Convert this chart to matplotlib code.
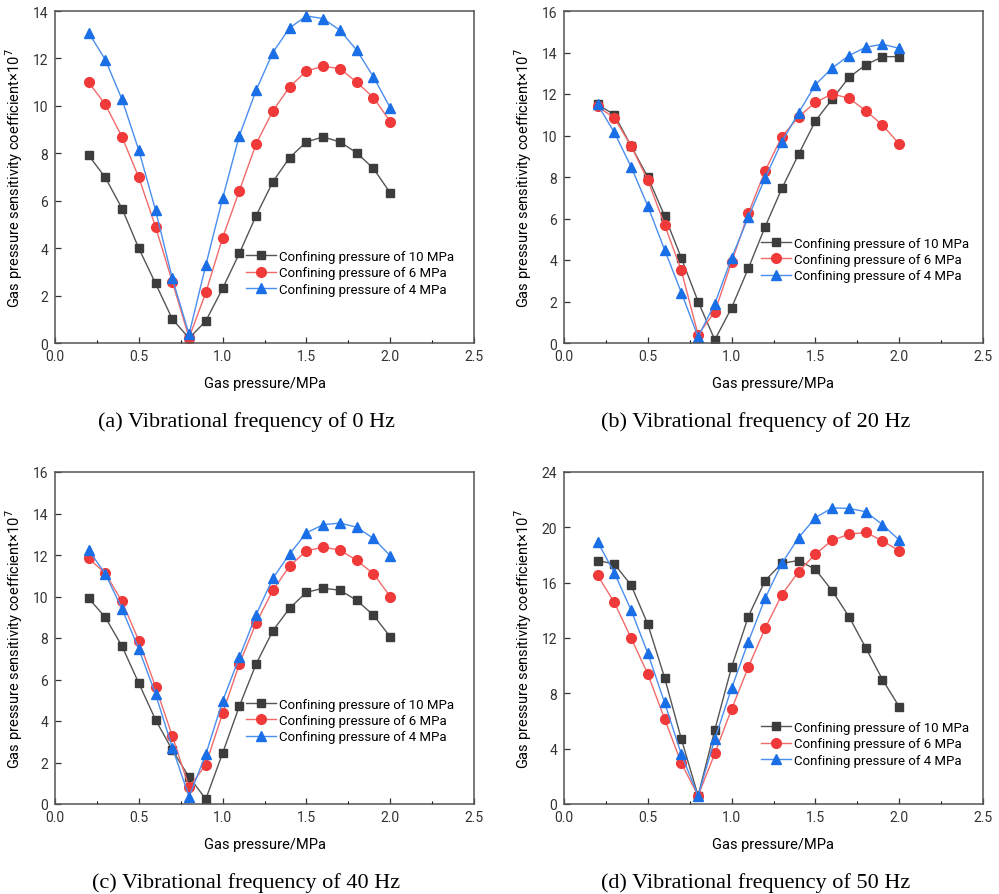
import matplotlib
matplotlib.use("Agg")
import matplotlib.pyplot as plt
from matplotlib.ticker import MultipleLocator

plt.rcParams['font.family'] = ['Roboto', 'DejaVu Sans']

pressure = [0.2, 0.3, 0.4, 0.5, 0.6, 0.7, 0.8, 0.9, 1.0, 1.1,
            1.2, 1.3, 1.4, 1.5, 1.6, 1.7, 1.8, 1.9, 2.0]

labels = ['Confining pressure of 10 MPa',
          'Confining pressure of 6 MPa',
          'Confining pressure of 4 MPa']

# (a) 0 Hz
a_10 = [7.92, 6.98, 5.67, 3.99, 2.51, 1.01, 0.2, 0.93, 2.3, 3.78,
        5.37, 6.8, 7.82, 8.48, 8.69, 8.48, 8.02, 7.36, 6.33]
a_6 = [11.0, 10.06, 8.69, 6.98, 4.9, 2.58, 0.22, 2.13, 4.44, 6.42,
       8.4, 9.79, 10.8, 11.47, 11.67, 11.57, 11.0, 10.35, 9.34]
a_4 = [13.09, 11.95, 10.27, 8.13, 5.6, 2.72, 0.37, 3.29, 6.1, 8.74,
       10.66, 12.25, 13.29, 13.79, 13.68, 13.19, 12.35, 11.22, 9.92]

# (b) 20 Hz
b_10 = [11.5, 11.0, 9.5, 8.0, 6.13, 4.1, 2.0, 0.15, 1.7, 3.6,
        5.6, 7.45, 9.1, 10.7, 11.75, 12.8, 13.4, 13.8, 13.8]
b_6 = [11.4, 10.85, 9.5, 7.85, 5.7, 3.5, 0.4, 1.5, 3.9, 6.25,
       8.3, 9.95, 10.9, 11.6, 12.0, 11.8, 11.2, 10.5, 9.6]
b_4 = [11.5, 10.15, 8.5, 6.6, 4.5, 2.43, 0.3, 1.9, 4.1, 6.07,
       7.95, 9.7, 11.1, 12.45, 13.25, 13.85, 14.25, 14.4, 14.2]

# (c) 40 Hz
c_10 = [9.92, 9.0, 7.6, 5.82, 4.06, 2.6, 1.3, 0.24, 2.45, 4.72,
        6.75, 8.35, 9.44, 10.2, 10.4, 10.3, 9.82, 9.1, 8.06]
c_6 = [11.84, 11.12, 9.76, 7.87, 5.65, 3.28, 0.8, 1.9, 4.37, 6.75,
       8.72, 10.3, 11.47, 12.2, 12.38, 12.24, 11.74, 11.1, 10.0]
c_4 = [12.24, 11.1, 9.4, 7.47, 5.3, 2.72, 0.35, 2.4, 4.96, 7.07,
       9.12, 10.88, 12.05, 13.07, 13.46, 13.54, 13.34, 12.8, 11.97]

# (d) 50 Hz
d_10 = [17.6, 17.35, 15.83, 13.0, 9.14, 4.7, 0.6, 5.37, 9.9, 13.55,
        16.15, 17.4, 17.6, 16.96, 15.42, 13.55, 11.3, 9.0, 7.03]
d_6 = [16.53, 14.58, 12.0, 9.4, 6.16, 2.96, 0.6, 3.66, 6.86, 9.9,
       12.7, 15.13, 16.8, 18.07, 19.06, 19.5, 19.63, 19.03, 18.3]
d_4 = [18.96, 16.72, 14.03, 10.9, 7.34, 3.6, 0.6, 4.7, 8.37, 11.74,
       14.87, 17.4, 19.25, 20.7, 21.4, 21.37, 21.13, 20.2, 19.08]

panels = [
    ('(a) Vibrational frequency of 0 Hz', [a_10, a_6, a_4], 14, 2),
    ('(b) Vibrational frequency of 20 Hz', [b_10, b_6, b_4], 16, 2),
    ('(c) Vibrational frequency of 40 Hz', [c_10, c_6, c_4], 16, 2),
    ('(d) Vibrational frequency of 50 Hz', [d_10, d_6, d_4], 24, 4),
]

styles = [
    dict(color='#555555', mfc='#3c3c3c', mec='#3c3c3c', marker='s', ms=6),
    dict(color='#f26a6a', mfc='#f03a3a', mec='#f03a3a', marker='o', ms=7),
    dict(color='#4a8ef0', mfc='#1a6fe6', mec='#1a6fe6', marker='^', ms=7.5),
]

W, H = 999, 895
boxes = [(55, 12), (564, 12), (55, 473), (564, 473)]
aw, ah = 419, 332
legend_pos = [(0.455, 0.28), (0.47, 0.32), (0.455, 0.32), (0.47, 0.25)]

fig = plt.figure(figsize=(W / 100, H / 100), dpi=100)

for i, (caption, series, ymax, ystep) in enumerate(panels):
    x0, y0 = boxes[i]
    ax = fig.add_axes([x0 / W, 1 - (y0 + ah) / H, aw / W, ah / H])
    for vals, lab, st in zip(series, labels, styles):
        ax.plot(pressure, vals, lw=1.0, label=lab, **st)
    ax.set_xlim(0, 2.5)
    ax.set_ylim(0, ymax)
    ax.xaxis.set_major_locator(MultipleLocator(0.5))
    ax.xaxis.set_minor_locator(MultipleLocator(0.25))
    ax.yaxis.set_major_locator(MultipleLocator(ystep))
    ax.xaxis.set_major_formatter(plt.FuncFormatter(lambda v, p: f'{v:.1f}'))
    ax.tick_params(direction='in', length=4, width=0.9, labelsize=10,
                   colors='#333333')
    ax.tick_params(axis='x', pad=4)
    ax.tick_params(axis='y', pad=5)
    ax.tick_params(which='minor', direction='in', length=2.5, width=0.8)
    for s in ax.spines.values():
        s.set_color('#555555')
        s.set_linewidth(1.1)
    ax.set_xlabel('Gas pressure/MPa', fontsize=10.5, labelpad=10)
    ax.set_ylabel('Gas pressure sensitivity coefficient×10$^{7}$',
                  fontsize=10.5, labelpad=5)
    ax.legend(loc='upper left', bbox_to_anchor=legend_pos[i], frameon=False,
              fontsize=9.5, handlelength=2.3, handletextpad=0.2,
              labelspacing=0.25, borderpad=0, borderaxespad=0)
    fig.text((x0 + aw / 2 - 18) / W, 1 - (y0 + ah + 78) / H, caption,
             ha='center', va='center', fontsize=16,
             family='Liberation Serif')

fig.savefig('out.png', dpi=100)
